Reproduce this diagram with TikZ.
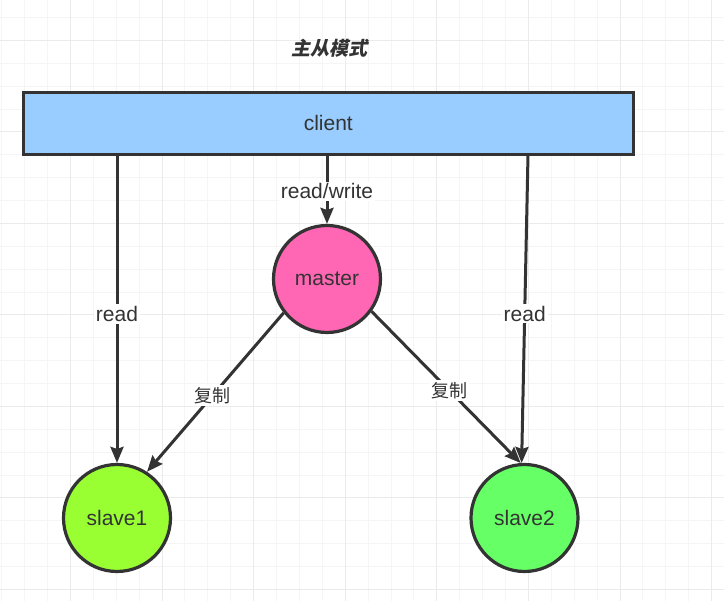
\documentclass[tikz,border=0pt]{standalone}
\usepackage{fontspec}
\setmainfont{Liberation Sans}
\newfontfamily\cjk{Noto Sans CJK SC}
\newfontfamily\cjktitle{Noto Sans CJK SC}[FakeSlant=0.22]
\usetikzlibrary{arrows.meta}
\definecolor{linec}{HTML}{333333}
\definecolor{clientblue}{HTML}{99CCFF}
\definecolor{masterpink}{HTML}{FF66B3}
\definecolor{slaveone}{HTML}{99FF33}
\definecolor{slavetwo}{HTML}{66FF66}
\definecolor{gridminor}{HTML}{F5F5F5}
\definecolor{gridmajor}{HTML}{EBEBEB}
\tikzset{
  latin/.style={font=\fontsize{21}{24}\selectfont, text=linec},
  clientbox/.style={draw=linec, line width=3.2pt, fill=clientblue, minimum width=610pt, minimum height=62pt, inner sep=0pt, latin},
  roundnode/.style={circle, draw=linec, line width=3.2pt, minimum size=107pt, inner sep=0pt, latin},
  conn/.style={draw=linec, line width=3pt, -{Stealth[length=16pt,width=13pt,inset=2pt]}},
  lab/.style={fill=white, inner sep=2pt, latin},
  cjklab/.style={fill=white, inner sep=2pt, text=linec, font=\cjk\fontsize{18}{20}\selectfont},
}
\begin{document}
\begin{tikzpicture}[x=1pt,y=-1pt]
\useasboundingbox (0,0) rectangle (724,601);
\fill[white] (0,0) rectangle (724,601);
% grid
\foreach \k in {0,...,31} \draw[gridminor, line width=1pt] ({1.7+22.9*\k},0) -- ({1.7+22.9*\k},601);
\foreach \k in {0,...,25} \draw[gridminor, line width=1pt] (0,{17.5+22.88*\k}) -- (724,{17.5+22.88*\k});
\foreach \k in {3,7,...,31} \draw[gridmajor, line width=1pt] ({1.7+22.9*\k},0) -- ({1.7+22.9*\k},601);
\foreach \k in {1,5,...,25} \draw[gridmajor, line width=1pt] (0,{17.5+22.88*\k}) -- (724,{17.5+22.88*\k});
% title
\node[text=linec, font=\cjktitle\bfseries\fontsize{19}{22}\selectfont] (title) at (329,48) {主从模式};
% nodes
\node[clientbox] (client) at (328.3,123.4) {client};
\node[roundnode, fill=masterpink] (master) at (327,279) {master};
\node[roundnode, fill=slaveone] (slave1) at (117,518) {slave1};
\node[roundnode, fill=slavetwo] (slave2) at (524.5,518) {slave2};
\coordinate (rtop) at (528,155);
% connectors
\draw[conn] (client.south -| master.north) -- node[lab, pos=0.52]{read/write} (master.north);
\draw[conn] (client.south -| slave1.north) -- node[lab, pos=0.515]{read} (slave1.north);
\draw[conn] (rtop) -- node[lab, pos=0.515]{read} (slave2.93);
\draw[conn] (master.218) -- node[cjklab, pos=0.52]{复制} (slave1.57);
\draw[conn] (master.324) -- node[cjklab, pos=0.52]{复制} (slave2.94);
\end{tikzpicture}
\end{document}
